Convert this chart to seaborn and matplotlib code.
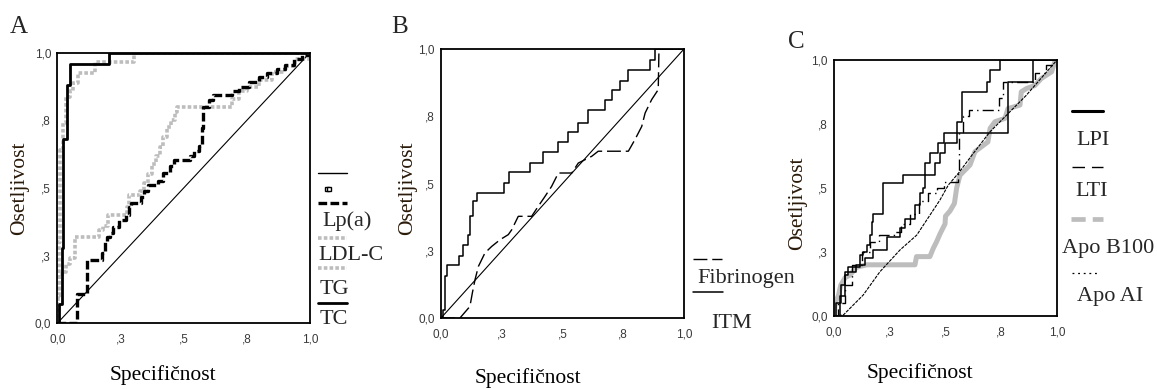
import matplotlib
matplotlib.use("Agg")
import matplotlib.pyplot as plt
from matplotlib.lines import Line2D
import seaborn as sns

# ------------------------------------------------------------------ data
tick_values = [0.0, 0.25, 0.5, 0.75, 1.0]
tick_labels = ["0,0", ",3", ",5", ",8", "1,0"]
panel_letters = ["A", "B", "C"]
x_title = "Specifičnost"
y_title = "Osetljivost"

diag_x = [0.0, 1.0]
diag_y = [0.0, 1.0]

# Panel A (step curves: x where the step occurs, new sensitivity level)
a_tc_x = [0.0, 0.008, 0.017, 0.024, 0.037, 0.05, 0.206, 1.0]
a_tc_y = [0.0, 0.07, 0.28, 0.68, 0.88, 0.96, 1.0, 1.0]

a_tg_x = [0.0, 0.0, 0.005, 0.011, 0.024, 0.035, 0.05, 0.063, 0.083, 0.149, 0.305, 1.0]
a_tg_y = [0.0, 0.10, 0.30, 0.64, 0.74, 0.837, 0.86, 0.887, 0.924, 0.967, 1.0, 1.0]

a_lpa_x = [0.0, 0.077, 0.119, 0.178, 0.19, 0.196, 0.208, 0.222, 0.245, 0.27, 0.283, 0.29,
           0.33, 0.345, 0.36, 0.40, 0.42, 0.446, 0.46, 0.525, 0.54, 0.56, 0.572, 0.576,
           0.60, 0.615, 0.69, 0.72, 0.76, 0.80, 0.83, 0.87, 0.90, 0.935, 0.97, 1.0]
a_lpa_y = [0.0, 0.11, 0.234, 0.26, 0.30, 0.32, 0.333, 0.357, 0.382, 0.40, 0.43, 0.443,
           0.465, 0.49, 0.51, 0.525, 0.554, 0.58, 0.603, 0.62, 0.635, 0.655, 0.72, 0.80,
           0.825, 0.845, 0.86, 0.875, 0.89, 0.91, 0.925, 0.94, 0.955, 0.975, 0.99, 1.0]

a_ldl_x = [0.0, 0.004, 0.008, 0.02, 0.035, 0.05, 0.07, 0.165, 0.18, 0.2, 0.275, 0.285,
           0.327, 0.345, 0.36, 0.375, 0.39, 0.405, 0.42, 0.433, 0.45, 0.465, 0.472,
           0.69, 0.72, 0.75, 0.80, 0.85, 0.90, 0.94, 1.0]
a_ldl_y = [0.0, 0.10, 0.17, 0.19, 0.22, 0.24, 0.32, 0.345, 0.36, 0.40, 0.43, 0.474,
           0.49, 0.517, 0.55, 0.59, 0.62, 0.65, 0.69, 0.727, 0.75, 0.78, 0.80,
           0.83, 0.86, 0.875, 0.90, 0.93, 0.95, 0.975, 1.0]

# Panel B
b_itm_x = [0.0, 0.01, 0.016, 0.023, 0.074, 0.092, 0.11, 0.119, 0.13, 0.15, 0.261, 0.281,
           0.366, 0.421, 0.483, 0.521, 0.565, 0.606, 0.675, 0.702, 0.737, 0.768, 0.86,
           0.881, 1.0]
b_itm_y = [0.0, 0.03, 0.155, 0.198, 0.229, 0.272, 0.31, 0.378, 0.434, 0.465, 0.502, 0.541,
           0.576, 0.616, 0.653, 0.691, 0.725, 0.774, 0.812, 0.847, 0.882, 0.923, 0.96,
           1.0, 1.0]

b_fib_x = [0.0, 0.078, 0.119, 0.129, 0.14, 0.154, 0.181, 0.2085, 0.243, 0.277, 0.291,
           0.318, 0.373, 0.40, 0.428, 0.455, 0.483, 0.538, 0.565, 0.62, 0.647, 0.771,
           0.798, 0.826, 0.84, 0.867, 0.894, 0.897, 1.0]
b_fib_y = [0.0, 0.0, 0.043, 0.093, 0.1425, 0.192, 0.242, 0.266, 0.291, 0.31, 0.328,
           0.378, 0.378, 0.415, 0.452, 0.489, 0.539, 0.539, 0.576, 0.601, 0.62, 0.62,
           0.663, 0.712, 0.762, 0.812, 0.849, 1.0, 1.0]

# Panel C
c_lpi_x = [0.0, 0.027, 0.049, 0.064, 0.117, 0.131, 0.147, 0.16, 0.169, 0.176, 0.221,
           0.31, 0.408, 0.43, 0.468, 0.493, 0.78, 0.894, 1.0]
c_lpi_y = [0.0, 0.08, 0.16, 0.193, 0.238, 0.251, 0.277, 0.316, 0.368, 0.40, 0.52,
           0.551, 0.596, 0.638, 0.675, 0.716, 0.915, 1.0, 1.0]

c_lti_x = [0.0, 0.01, 0.03, 0.05, 0.10, 0.14, 0.176, 0.236, 0.296, 0.318, 0.363, 0.386,
           0.40, 0.408, 0.453, 0.475, 0.498, 0.55, 0.572, 0.684, 0.70, 0.744, 1.0]
c_lti_y = [0.0, 0.05, 0.12, 0.17, 0.20, 0.225, 0.258, 0.31, 0.343, 0.38, 0.434, 0.48,
           0.50, 0.55, 0.596, 0.638, 0.675, 0.759, 0.876, 0.915, 0.96, 1.0, 1.0]

c_apoai_x = [0.0, 0.02, 0.05, 0.08, 0.127, 0.16, 0.2, 0.27, 0.3, 0.34, 0.38, 0.42, 0.46,
             0.495, 0.555, 0.562, 0.58, 0.607, 0.742, 0.76, 0.9, 0.95, 1.0]
c_apoai_y = [0.0, 0.05, 0.12, 0.2, 0.25, 0.29, 0.315, 0.33, 0.36, 0.40, 0.45, 0.48, 0.50,
             0.524, 0.56, 0.72, 0.78, 0.804, 0.85, 0.914, 0.95, 0.98, 1.0]

c_apob_x = [0.0, 0.005, 0.02, 0.03, 0.05, 0.072, 0.1, 0.147, 0.363, 0.37, 0.43, 0.445,
            0.46, 0.475, 0.498, 0.50, 0.52, 0.54, 0.55, 0.565, 0.61, 0.632, 0.69, 0.70,
            0.722, 0.767, 0.78, 0.834, 0.84, 0.864, 0.9, 0.93, 0.976, 0.99, 1.0]
c_apob_y = [0.0, 0.05, 0.08, 0.12, 0.15, 0.16, 0.19, 0.2, 0.2, 0.232, 0.232, 0.264,
            0.29, 0.32, 0.36, 0.39, 0.41, 0.44, 0.5, 0.55, 0.59, 0.642, 0.68, 0.733,
            0.759, 0.772, 0.81, 0.824, 0.876, 0.889, 0.9, 0.928, 0.954, 0.993, 1.0]

c_ref_x = [0.0, 0.042, 0.131, 0.206, 0.296, 0.371, 0.475, 0.513, 0.56, 0.62, 0.70,
           0.78, 0.86, 0.93, 1.0]
c_ref_y = [0.0, 0.004, 0.082, 0.173, 0.258, 0.316, 0.453, 0.512, 0.56, 0.63, 0.72,
           0.79, 0.86, 0.93, 1.0]

legend_a = ["Lp(a)", "LDL-C", "TG", "TC"]
legend_b = ["Fibrinogen", "ITM"]
legend_c = ["LPI", "LTI", "Apo B100", "Apo AI"]

# ------------------------------------------------------------------ style
sns.set_theme(style="white")
plt.rcParams["font.family"] = ["Liberation Serif", "DejaVu Serif"]

W, H = 1157, 389
fig = plt.figure(figsize=(W / 100, H / 100), dpi=100)


def rect(l, t, r, b):
    return [l / W, 1 - b / H, (r - l) / W, (b - t) / H]


axA = fig.add_axes(rect(57.3, 52.7, 310, 323.3))
axB = fig.add_axes(rect(441, 49, 684, 318))
axC = fig.add_axes(rect(834, 60, 1057, 316))

GRAY = "#bdbdbd"


def curve(ax, x, y, color="black", lw=1.0, ls="-", steps=False):
    kw = dict(drawstyle="steps-post") if steps else {}
    sns.lineplot(x=x, y=y, ax=ax, color=color, linewidth=lw, linestyle=ls,
                 sort=False, estimator=None, errorbar=None, legend=False, **kw)


def style_axes(ax, xl, yl):
    ax.set_xlim(0, 1)
    ax.set_ylim(0, 1)
    ax.set_xticks(tick_values)
    ax.set_yticks(tick_values)
    ax.set_xticklabels(tick_labels, family="Liberation Sans", fontsize=8.5, color="#3a3a3a")
    ax.set_yticklabels(tick_labels, family="Liberation Sans", fontsize=8.5, color="#3a3a3a")
    ax.tick_params(axis="both", direction="out", length=2.5, width=1.8, color="black")
    ax.tick_params(axis="x", pad=5)
    ax.tick_params(axis="y", pad=2)
    for s in ax.spines.values():
        s.set_visible(True)
        s.set_color("black")
        s.set_linewidth(1.3)
    ax.set_xlabel(x_title, fontsize=15.5, color="black")
    ax.set_ylabel(y_title, fontsize=15.5, color="#2a1a0a")
    ax.xaxis.label.set_va("center")
    ax.yaxis.label.set_va("center")
    ax.xaxis.set_label_coords(*xl)
    ax.yaxis.set_label_coords(*yl)
    ax.set_facecolor("white")
    ax.grid(False)


# Panel A
curve(axA, diag_x, diag_y, lw=0.8)
curve(axA, a_ldl_x, a_ldl_y, color=GRAY, lw=2.6, ls=(0, (1.0, 0.6)), steps=True)
curve(axA, a_lpa_x, a_lpa_y, lw=2.4, ls=(0, (2.6, 1.0)), steps=True)
curve(axA, a_tg_x, a_tg_y, color=GRAY, lw=2.6, ls=(0, (1.0, 0.6)), steps=True)
curve(axA, a_tc_x, a_tc_y, lw=2.0, steps=True)
style_axes(axA, (0.418, -0.19), (-0.148, 0.5))

# Panel B
curve(axB, diag_x, diag_y, lw=0.8)
curve(axB, b_fib_x, b_fib_y, lw=1.0, ls=(0, (10, 3.5)))
curve(axB, b_itm_x, b_itm_y, lw=1.1, steps=True)
style_axes(axB, (0.358, -0.223), (-0.136, 0.483))

# Panel C
curve(axC, c_apob_x, c_apob_y, color=GRAY, lw=3.6)
curve(axC, c_ref_x, c_ref_y, lw=0.8, ls=(0, (3, 1)))
curve(axC, c_apoai_x, c_apoai_y, lw=1.0, ls=(0, (8, 3, 1, 3)), steps=True)
curve(axC, c_lti_x, c_lti_y, lw=1.1, steps=True)
curve(axC, c_lpi_x, c_lpi_y, lw=1.1, steps=True)
style_axes(axC, (0.386, -0.223), (-0.161, 0.441))

# panel letters
for (px, py), letter in zip([(19, 27), (400, 27), (796, 42)], panel_letters):
    fig.text(px / W, 1 - py / H, letter, ha="center", va="center", fontsize=18)


# ------------------------------------------------------------------ legends
def key(x0, x1, y, **kw):
    fig.add_artist(Line2D([x0 / W, x1 / W], [1 - y / H, 1 - y / H],
                          transform=fig.transFigure, **kw))


def label(x, y, s):
    fig.text(x / W, 1 - y / H, s, ha="left", va="center", fontsize=16)


# A
key(318, 347, 172.7, color="black", lw=1.0)
key(327, 329, 189, color="black", lw=0, marker="s", markersize=3.5,
    markerfacecolor="white", markeredgecolor="black", markeredgewidth=1.0)
key(318, 347, 203, color="black", lw=2.4, ls=(0, (2.6, 1.0)))
label(322.7, 221, legend_a[0])
key(318, 347, 238, color=GRAY, lw=2.6, ls=(0, (1.0, 0.6)))
label(318, 256, legend_a[1])
key(318, 347, 268, color=GRAY, lw=2.6, ls=(0, (1.0, 0.6)))
label(320, 289, legend_a[2])
key(318, 347, 302.7, color="black", lw=2.0)
label(320, 319, legend_a[3])

# B
key(693, 722, 259, color="black", lw=1.0, ls=(0, (10, 3.5)))
label(697, 278, legend_b[0])
key(693, 723, 292, color="black", lw=1.1)
label(711.7, 324, legend_b[1])

# C
key(1071.7, 1103, 111, color="black", lw=2.2)
label(1076.7, 141, legend_c[0])
key(1071.7, 1103, 166.7, color="black", lw=1.0, ls=(0, (9, 5)))
label(1075, 191, legend_c[1])
key(1071, 1103, 219, color=GRAY, lw=3.4, ls=(0, (3, 1.5)))
label(1061.7, 249, legend_c[2])
key(1072, 1100, 273.3, color="black", lw=0.9, ls=(0, (1.5, 3)))
label(1076.7, 296, legend_c[3])

fig.savefig("out.png", dpi=100, facecolor="white")
